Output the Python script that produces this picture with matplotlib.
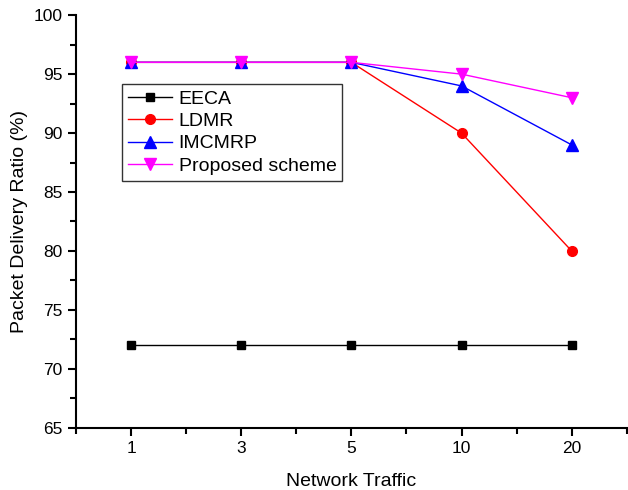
import numpy as np
import matplotlib
matplotlib.use("Agg")
import matplotlib.pyplot as plt
from matplotlib.ticker import MultipleLocator

plt.rcParams['font.family'] = ['Liberation Sans', 'DejaVu Sans']

traffic = ['1', '3', '5', '10', '20']
eeca = [72, 72, 72, 72, 72]
ldmr = [96, 96, 96, 90, 80]
imcmrp = [96, 96, 96, 94, 89]
proposed = [96, 96, 96, 95, 93]

x = np.arange(len(traffic))

fig = plt.figure(figsize=(6.28, 4.90), dpi=100)
ax = fig.add_axes([0.121, 0.127, 0.877, 0.842])

ax.plot(x, eeca, color='black', marker='s', markersize=5.5, linewidth=1, label='EECA')
ax.plot(x, ldmr, color='red', marker='o', markersize=7, linewidth=1, label='LDMR')
ax.plot(x, imcmrp, color='blue', marker='^', markersize=8, linewidth=1, label='IMCMRP')
ax.plot(x, proposed, color='magenta', marker='v', markersize=8, linewidth=1, label='Proposed scheme')

ax.set_xlim(-0.5, 4.5)
ax.set_ylim(65, 100)
ax.set_xticks(x)
ax.set_xticklabels(traffic)
ax.xaxis.set_minor_locator(MultipleLocator(0.5))
ax.yaxis.set_major_locator(MultipleLocator(5))
ax.yaxis.set_minor_locator(MultipleLocator(2.5))

for s in ['top', 'right']:
    ax.spines[s].set_visible(False)
for s in ['left', 'bottom']:
    ax.spines[s].set_linewidth(1.5)

ax.tick_params(which='major', direction='out', length=6, width=1.5, labelsize=12.5)
ax.tick_params(which='minor', direction='out', length=4, width=1.5)

ax.set_xlabel('Network Traffic', fontsize=14, labelpad=12)
ax.set_ylabel('Packet Delivery Ratio (%)', fontsize=14, labelpad=4)

leg = ax.legend(loc='upper left', bbox_to_anchor=(0.084, 0.833), fontsize=14,
                frameon=True, fancybox=False, edgecolor='black', borderaxespad=0,
                handlelength=2.25, handletextpad=0.35, borderpad=0.3,
                labelspacing=0.25)
leg.get_frame().set_linewidth(1)

fig.savefig('out.png', dpi=100)
